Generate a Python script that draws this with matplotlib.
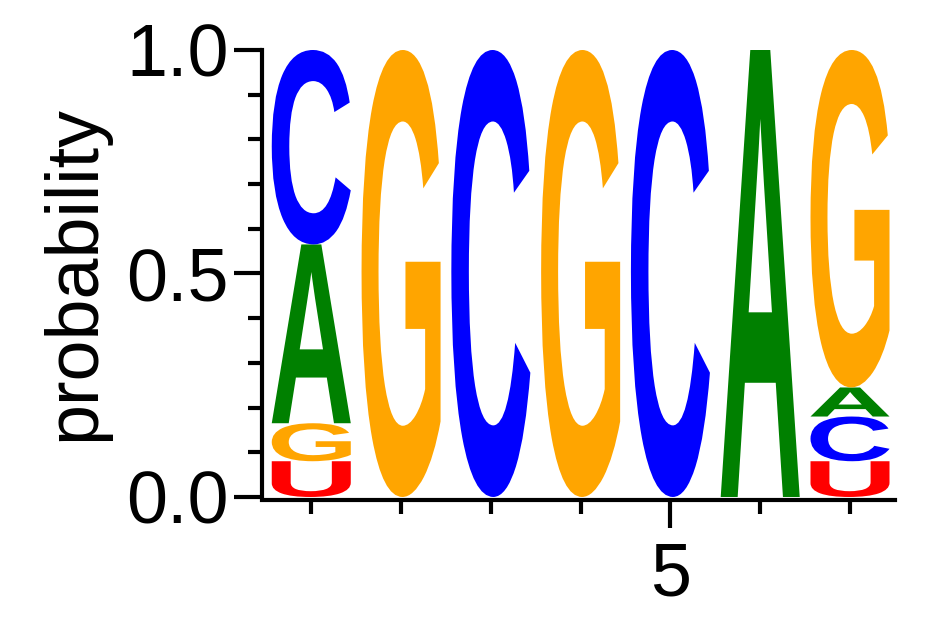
import matplotlib
matplotlib.use("Agg")
import matplotlib.pyplot as plt
from matplotlib.textpath import TextPath
from matplotlib.patches import PathPatch
from matplotlib.font_manager import FontProperties
from matplotlib.transforms import Affine2D
from matplotlib.ticker import MultipleLocator, FixedLocator

plt.rcParams['font.family'] = ['Liberation Sans', 'DejaVu Sans']

positions = [1, 2, 3, 4, 5, 6, 7]
# stacks bottom to top: (letter, probability)
stacks = [
    [("U", 0.08), ("G", 0.085), ("A", 0.40), ("C", 0.435)],
    [("G", 1.0)],
    [("C", 1.0)],
    [("G", 1.0)],
    [("C", 1.0)],
    [("A", 1.0)],
    [("U", 0.08), ("C", 0.10), ("A", 0.065), ("G", 0.755)],
]
colors = {"A": "#008000", "C": "#0000ff", "G": "#ffa500", "U": "#ff0000"}

fig = plt.figure(figsize=(9.42, 6.17), dpi=100)
ax = fig.add_axes([0.278, 0.1945, 0.672, 0.7245])
fp = FontProperties(family="Liberation Sans", weight="bold")

def draw_letter(ch, x, y0, h, w=0.88):
    tp = TextPath((0, 0), ch, size=1, prop=fp)
    ext = tp.get_extents()
    t = (Affine2D().translate(-ext.x0, -ext.y0)
         .scale(w / ext.width, h / ext.height)
         .translate(x - w / 2, y0))
    ax.add_patch(PathPatch(t.transform_path(tp), color=colors[ch], lw=0))

for x, st in zip(positions, stacks):
    y = 0
    for ch, p in st:
        draw_letter(ch, x, y, p)
        y += p

ax.set_xlim(0.45, 7.5)
ax.set_ylim(0, 1)
for s in ["top", "right"]:
    ax.spines[s].set_visible(False)
for s in ["left", "bottom"]:
    ax.spines[s].set_linewidth(3)
ax.spines["bottom"].set_position(("outward", 2))
ax.set_yticks([0, 0.5, 1.0])
ax.set_yticklabels(["0.0", "0.5", "1.0"])
ax.yaxis.set_minor_locator(MultipleLocator(0.1))
ax.xaxis.set_major_locator(FixedLocator([5]))
ax.xaxis.set_minor_locator(FixedLocator(positions))
ax.tick_params(which="major", length=20, width=3, labelsize=53)
ax.tick_params(which="minor", length=10, width=3)
ax.tick_params(axis="x", which="major", pad=10)
ax.tick_params(axis="y", which="major", pad=4)
ax.set_ylabel("probability", fontsize=53, labelpad=12)
fig.savefig("out.png", dpi=100)
